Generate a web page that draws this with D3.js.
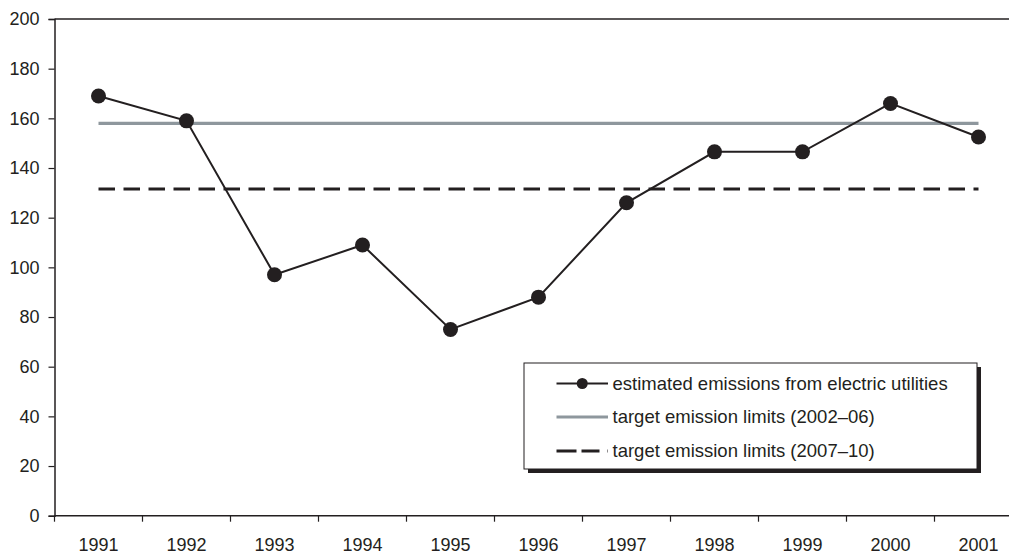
<!DOCTYPE html>
<html>
<head>
<meta charset="utf-8">
<script src="https://cdn.jsdelivr.net/npm/d3@7"></script>
<style>
  html, body { margin: 0; padding: 0; background: #fff; }
  svg { display: block; font-family: "Liberation Sans", Arial, sans-serif; }
</style>
</head>
<body>
<svg id="chart" width="1009" height="554"></svg>
<script>
const years = ["1991","1992","1993","1994","1995","1996","1997","1998","1999","2000","2001"];
const emissions = [169, 159, 97, 109, 75, 88, 126, 146.5, 146.5, 166, 152.5];
const limit2002 = 158;
const limit2007 = 131.5;
const yTicks = [0, 20, 40, 60, 80, 100, 120, 140, 160, 180, 200];
const legendLabels = [
  "estimated emissions from electric utilities",
  "target emission limits (2002\u201306)",
  "target emission limits (2007\u201310)"
];

const svg = d3.select("#chart");
const ink = "#231f20";
const grey = "#8e979d";

const left = 54.5, band = 88;
const x = d3.scaleBand().domain(years).range([left, left + band * years.length]).paddingInner(0).paddingOuter(0);
const y = d3.scaleLinear().domain([0, 200]).range([515.7, 19]);
const cx = d => x(d) + x.bandwidth() / 2;

// top frame line
svg.append("line")
  .attr("x1", left).attr("x2", 1009)
  .attr("y1", y(200)).attr("y2", y(200))
  .attr("stroke", ink).attr("stroke-width", 1.5);

// y axis
const yAxis = svg.append("g")
  .attr("transform", `translate(${left},0)`)
  .call(d3.axisLeft(y).tickValues(yTicks).tickSize(6).tickPadding(9).tickFormat(d3.format("d")));
yAxis.select(".domain").attr("stroke", ink).attr("stroke-width", 1.5);
yAxis.selectAll(".tick line").attr("stroke", ink).attr("stroke-width", 1.2);
yAxis.selectAll("text").attr("fill", ink).style("font-size", "18px");

// x axis
const xAxis = svg.append("g")
  .attr("transform", `translate(0,${y(0)})`)
  .call(d3.axisBottom(x).tickSize(0).tickPadding(0));
xAxis.select(".domain").attr("stroke", ink).attr("stroke-width", 1.5)
  .attr("d", `M${left},0H1009`);
xAxis.selectAll("text").attr("fill", ink).style("font-size", "18px")
  .attr("dy", null).attr("y", 35.5);
xAxis.selectAll(".boundary").data(years).enter().append("line")
  .attr("class", "boundary")
  .attr("x1", d => x(d)).attr("x2", d => x(d))
  .attr("y1", 0).attr("y2", 6)
  .attr("stroke", ink).attr("stroke-width", 1.2);

// limit lines
const first = cx(years[0]), last = cx(years[years.length - 1]);
svg.append("line")
  .attr("x1", first).attr("x2", last)
  .attr("y1", y(limit2002)).attr("y2", y(limit2002))
  .attr("stroke", grey).attr("stroke-width", 3.2);
svg.append("line")
  .attr("x1", first).attr("x2", last)
  .attr("y1", y(limit2007)).attr("y2", y(limit2007))
  .attr("stroke", ink).attr("stroke-width", 3)
  .attr("stroke-dasharray", "16.5,8.5");

// emissions line + points
const line = d3.line().x((d, i) => cx(years[i])).y(d => y(d));
svg.append("path")
  .attr("d", line(emissions))
  .attr("fill", "none").attr("stroke", ink).attr("stroke-width", 2);
svg.selectAll(".pt").data(emissions).enter().append("circle")
  .attr("class", "pt")
  .attr("cx", (d, i) => cx(years[i])).attr("cy", d => y(d))
  .attr("r", 7.5).attr("fill", ink);

// legend
const lg = svg.append("g");
const bx = 524, by = 363, bw = 453, bh = 106;
lg.append("rect").attr("x", bx + 4).attr("y", by + 4).attr("width", bw).attr("height", bh).attr("fill", ink);
lg.append("rect").attr("x", bx).attr("y", by).attr("width", bw).attr("height", bh)
  .attr("fill", "#fff").attr("stroke", ink).attr("stroke-width", 1);
const rows = [383.5, 417, 451];
const sx1 = 556.5, sx2 = 608;
// row 1
lg.append("line").attr("x1", sx1).attr("x2", sx2).attr("y1", rows[0]).attr("y2", rows[0])
  .attr("stroke", ink).attr("stroke-width", 2);
lg.append("circle").attr("cx", (sx1 + sx2) / 2).attr("cy", rows[0]).attr("r", 5.5).attr("fill", ink);
// row 2
lg.append("line").attr("x1", sx1).attr("x2", sx2).attr("y1", rows[1]).attr("y2", rows[1])
  .attr("stroke", grey).attr("stroke-width", 3.2);
// row 3
lg.append("line").attr("x1", sx1).attr("x2", sx2).attr("y1", rows[2]).attr("y2", rows[2])
  .attr("stroke", ink).attr("stroke-width", 3)
  .attr("stroke-dasharray", "20,5,18,8,1.5,10");
lg.selectAll(".lt").data(legendLabels).enter().append("text")
  .attr("class", "lt")
  .attr("x", 612.5).attr("y", (d, i) => rows[i])
  .attr("dy", "0.35em")
  .attr("fill", ink).style("font-size", "18.5px")
  .text(d => d);
</script>
</body>
</html>
